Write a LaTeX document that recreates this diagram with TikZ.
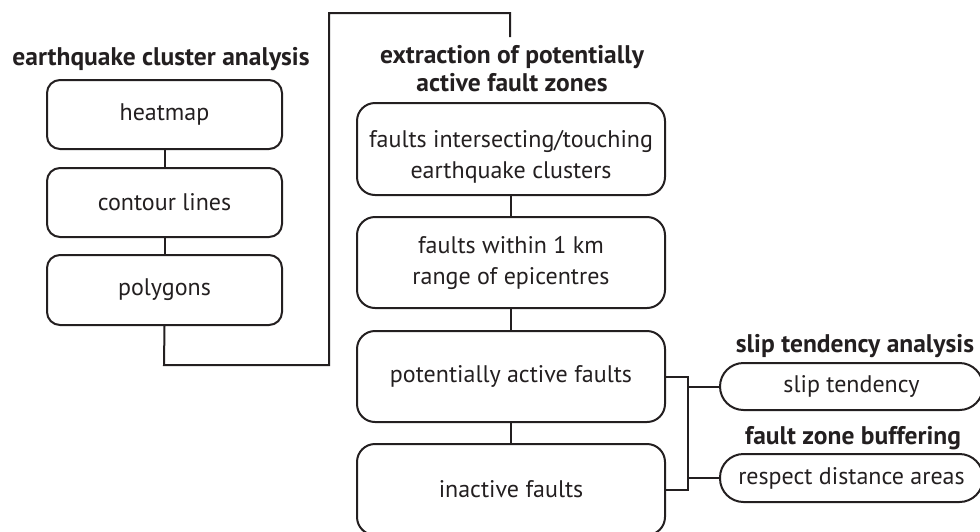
\documentclass[tikz,border=0pt]{standalone}
\usepackage{fontspec}
\setmainfont{PT Sans}
\definecolor{ink}{HTML}{231F20}
\begin{document}
\begin{tikzpicture}[x=1pt,y=-1pt,
  every node/.style={text=ink, font=\fontsize{24}{31}\selectfont},
  leftbox/.style={draw=ink, line width=2pt, rounded corners=13pt, minimum width=235pt, minimum height=69pt, inner sep=0pt},
  midbox/.style={draw=ink, line width=2pt, rounded corners=18pt, minimum width=308pt, minimum height=91pt, inner sep=0pt, align=center},
  pill/.style={draw=ink, line width=2pt, rounded corners=23.5pt, minimum width=263pt, minimum height=47pt, inner sep=0pt},
  ttl/.style={font=\fontsize{25.5}{28}\selectfont\bfseries, align=center},
  link/.style={draw=ink, line width=2pt}
]
\useasboundingbox (0,0) rectangle (980,531);
% titles
\node[ttl] (t1) at (161,59) {earthquake cluster analysis};
\node[ttl] (t2) at (512,69) {extraction of potentially\\active fault zones};
\node[ttl] (t3) at (855,346) {slip tendency analysis};
\node[ttl] (t4) at (853,438) {fault zone buffering};
% left column
\node[leftbox] (heat) at (164.5,114.5) {heatmap};
\node[leftbox] (cont) at (164.5,202.5) {contour lines};
\node[leftbox, minimum height=70pt] (poly) at (164.5,290) {polygons};
% middle column
\node[midbox, minimum height=92pt] (f1) at (511,149) {};
\node[align=center] (f1t) at (511,157) {faults intersecting/touching\\earthquake clusters};
\node[midbox] (f2) at (511,262.5) {faults within 1 km\\range of epicentres};
\node[midbox] (f3) at (511,376.5) {potentially active faults};
\node[midbox] (f4) at (511,489.5) {inactive faults};
% right pills
\node[pill] (s1) at (851.5,386.5) {slip tendency};
\node[pill, minimum height=48pt] (s2) at (851.5,478) {respect distance areas};
% connectors
\coordinate (top) at (510,37);
\draw[link] (heat) -- (cont);
\draw[link] (cont) -- (poly);
\draw[link] (poly.south) -- (164,365) -- (329,365) -- (329,13) -- (510,13) -- (top);
\draw[link] (f1) -- (f2);
\draw[link] (f2) -- (f3);
\draw[link] (f3) -- (f4);
\coordinate (br) at (688,376.5);
\draw[link] (f3.east) -- (br) |- (f4.east);
\draw[link] (s1.west) -- (s1.west -| br);
\draw[link] (s2.west) -- (s2.west -| br);
\end{tikzpicture}
\end{document}
